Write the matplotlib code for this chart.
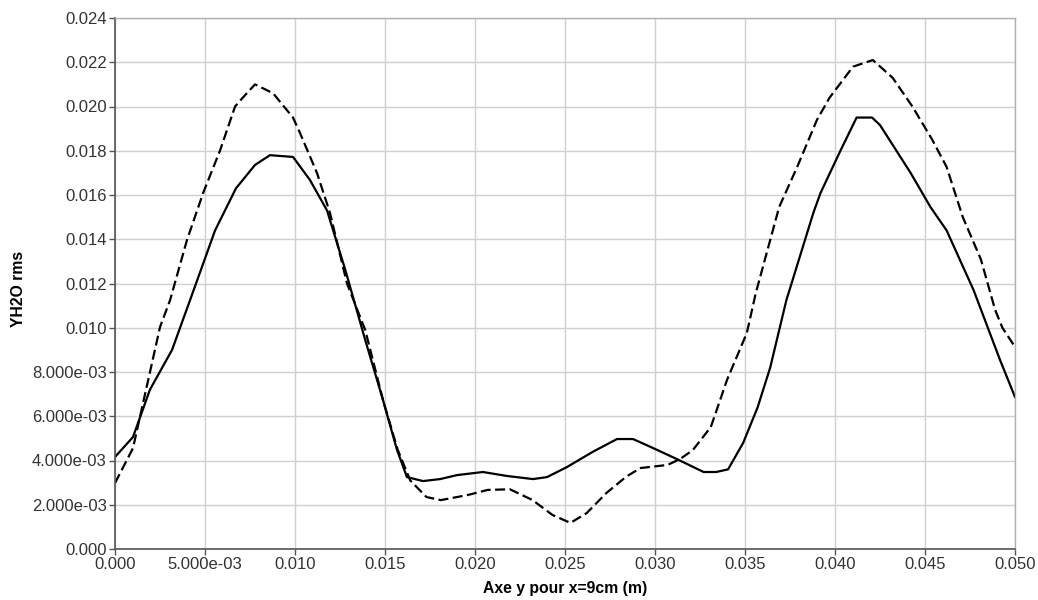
import matplotlib
matplotlib.use("Agg")
import matplotlib.pyplot as plt

plt.rcParams['font.family'] = ['Liberation Sans', 'DejaVu Sans']

# solid curve
y_solid = [0.0, 0.001, 0.00194, 0.00317, 0.00417, 0.00556, 0.00672, 0.00778, 0.00861,
           0.00989, 0.01083, 0.01178, 0.0128, 0.0139, 0.0149, 0.01567, 0.01622, 0.01711,
           0.01806, 0.019, 0.02044, 0.02178, 0.02322, 0.024, 0.0251, 0.02656, 0.02789,
           0.02878, 0.0299, 0.0312, 0.0327, 0.0334, 0.03406, 0.0349, 0.0357, 0.0364,
           0.0373, 0.0388, 0.0392, 0.0403, 0.0412, 0.04206, 0.0425, 0.0442, 0.0453,
           0.0462, 0.0477, 0.04917, 0.05]
rms_solid = [0.00416, 0.00506, 0.0072, 0.009, 0.01125, 0.0144, 0.0163, 0.01736, 0.0178,
             0.01772, 0.01668, 0.0153, 0.0126, 0.00945, 0.0067, 0.00447, 0.00325, 0.00307,
             0.00316, 0.00334, 0.00348, 0.0033, 0.00316, 0.00325, 0.0037, 0.0044, 0.00497,
             0.00497, 0.00456, 0.00407, 0.00348, 0.00348, 0.0036, 0.0048, 0.0064, 0.0082,
             0.01125, 0.0152, 0.0161, 0.018, 0.0195, 0.0195, 0.01916, 0.017, 0.01546,
             0.0144, 0.0117, 0.00854, 0.00687]

# dashed curve
y_dash = [0.0, 0.001, 0.0025, 0.00306, 0.004, 0.0049, 0.00583, 0.00667, 0.0071, 0.00778,
          0.00878, 0.00989, 0.01028, 0.01122, 0.01194, 0.01289, 0.0139, 0.0149, 0.0157,
          0.0164, 0.0173, 0.0181, 0.0196, 0.0207, 0.02194, 0.0232, 0.0243, 0.0253,
          0.0262, 0.0273, 0.0284, 0.0292, 0.0307, 0.0314, 0.0321, 0.0331, 0.034,
          0.0351, 0.0356, 0.0369, 0.0379, 0.039, 0.0397, 0.041, 0.0421, 0.0432,
          0.0443, 0.0454, 0.0462, 0.0471, 0.0481, 0.0489, 0.0493, 0.05]
rms_dash = [0.00298, 0.00456, 0.01003, 0.01125, 0.01397, 0.0161, 0.018, 0.02, 0.0204, 0.021,
            0.0206, 0.0195, 0.0188, 0.017, 0.0152, 0.012, 0.0099, 0.0067, 0.0045,
            0.0031, 0.00235, 0.00221, 0.00244, 0.00267, 0.0027, 0.00221, 0.00154, 0.00118,
            0.00162, 0.00253, 0.00327, 0.00366, 0.0038, 0.00407, 0.00447, 0.00551, 0.00764,
            0.00976, 0.01157, 0.01546, 0.01727, 0.0194, 0.0204, 0.0218, 0.0221, 0.0213,
            0.02, 0.0185, 0.01727, 0.015, 0.0131, 0.0108, 0.01, 0.00913]

x_ticks = [0.0, 0.005, 0.010, 0.015, 0.020, 0.025, 0.030, 0.035, 0.040, 0.045, 0.050]
x_labels = ['0.000', '5.000e-03', '0.010', '0.015', '0.020', '0.025', '0.030',
            '0.035', '0.040', '0.045', '0.050']
y_ticks = [0.0, 0.002, 0.004, 0.006, 0.008, 0.010, 0.012, 0.014, 0.016, 0.018,
           0.020, 0.022, 0.024]
y_labels = ['0.000', '2.000e-03', '4.000e-03', '6.000e-03', '8.000e-03', '0.010',
            '0.012', '0.014', '0.016', '0.018', '0.020', '0.022', '0.024']

fig = plt.figure(figsize=(10.38, 6), dpi=100)
ax = fig.add_axes([115 / 1038, 51 / 600, 900 / 1038, 531 / 600])

ax.plot(y_solid, rms_solid, color='black', linewidth=1.6)
ax.plot(y_dash, rms_dash, color='black', linewidth=1.6, dashes=(4.5, 2))

ax.set_xlim(0, 0.05)
ax.set_ylim(0, 0.024)
ax.set_xticks(x_ticks)
ax.set_xticklabels(x_labels)
ax.set_yticks(y_ticks)
ax.set_yticklabels(y_labels)
ax.tick_params(labelsize=12, length=4, width=1, color='#555555', pad=2,
               labelcolor='#333333')

ax.grid(True, color='#d0d0d0', linewidth=1)
ax.set_axisbelow(True)
for side in ['left', 'bottom']:
    ax.spines[side].set_color('#555555')
    ax.spines[side].set_linewidth(1.2)
for side in ['top', 'right']:
    ax.spines[side].set_color('#b0b0b0')
    ax.spines[side].set_linewidth(1)

ax.set_xlabel('Axe y pour x=9cm (m)', fontsize=11.3, fontweight='bold', labelpad=6)
ax.set_ylabel('YH2O rms', fontsize=11.3, fontweight='bold')
ax.yaxis.set_label_coords(-89 / 900, 0.49)

fig.savefig('out.png', dpi=100)
